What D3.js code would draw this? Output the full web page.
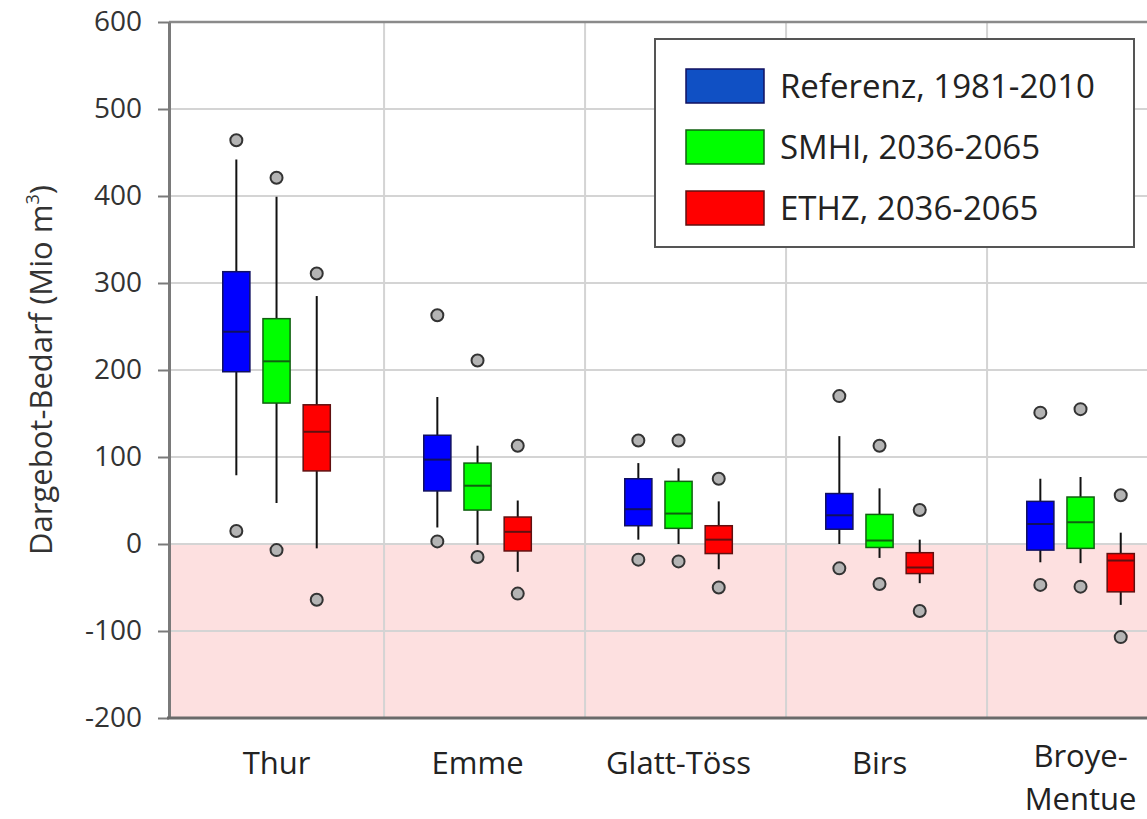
<!DOCTYPE html>
<html>
<head>
<meta charset="utf-8">
<script src="https://cdn.jsdelivr.net/npm/d3@7"></script>
<style>
  body { margin: 0; background: #fff; }
  svg { display: block; font-family: "Open Sans", sans-serif; }
</style>
</head>
<body>
<svg id="chart" width="1147" height="819"></svg>
<script>
// categories and series
var categories = ["Thur", "Emme", "Glatt-Töss", "Birs", "Broye-Mentue"];
var seriesNames = ["Referenz, 1981-2010", "SMHI, 2036-2065", "ETHZ, 2036-2065"];

// five-number summaries per category: [whisker low, q1, median, q3, whisker high]
var referenzStats = [[79, 198, 244, 313, 442], [19, 61, 97, 125, 169], [5, 21, 40, 75, 93], [0, 17, 33, 58, 124], [-21, -7, 23, 49, 75]];
var smhiStats = [[47, 162, 210, 259, 399], [-1, 39, 67, 93, 113], [0, 18, 35, 72, 87], [-16, -4, 4, 34, 64], [-22, -5, 25, 54, 77]];
var ethzStats = [[-5, 84, 129, 160, 285], [-32, -8, 14, 31, 50], [-29, -11, 5, 21, 49], [-45, -34, -27, -10, 5], [-70, -55, -19, -11, 13]];

// outliers per category
var referenzOutliers = [[15, 464], [3, 263], [-18, 119], [-28, 170], [-47, 151]];
var smhiOutliers = [[-7, 421], [-15, 211], [-20, 119], [-46, 113], [-49, 155]];
var ethzOutliers = [[-64, 311], [-57, 113], [-50, 75], [-77, 39], [-107, 56]];

var yTicks = [-200, -100, 0, 100, 200, 300, 400, 500, 600];

var fills = ["#0000ff", "#00ff00", "#ff0000"];
var strokes = ["#101060", "#106010", "#601010"];
var legendFills = ["#1050c4", "#00ff00", "#ff0000"];

var margin = {top: 22, left: 169, bottom: 101};
var height = 819 - margin.top - margin.bottom;
var bandW = 201;

var svg = d3.select("#chart");

var x = d3.scaleLinear()
    .domain([-0.535, 5.535])
    .range([margin.left, margin.left + 6.07 * bandW]);
var y = d3.scaleLinear()
    .domain([-200, 600])
    .range([margin.top + height, margin.top]);

var right = x(5.535);

// pink area below zero
svg.append("rect")
    .attr("x", x(-0.535)).attr("y", y(0))
    .attr("width", right - x(-0.535)).attr("height", y(-200) - y(0))
    .attr("fill", "#fde0e0");

// horizontal grid
svg.append("g").selectAll("line").data(yTicks.slice(1, -1)).join("line")
    .attr("x1", margin.left).attr("x2", right)
    .attr("y1", d => y(d)).attr("y2", d => y(d))
    .attr("stroke", "#d4d4d4").attr("stroke-width", 2);

// vertical grid between categories
svg.append("g").selectAll("line").data(d3.range(categories.length)).join("line")
    .attr("x1", d => x(d + 0.535)).attr("x2", d => x(d + 0.535))
    .attr("y1", y(600)).attr("y2", y(-200))
    .attr("stroke", "#d4d4d4").attr("stroke-width", 2);

// top frame
svg.append("line")
    .attr("x1", margin.left).attr("x2", right)
    .attr("y1", y(600)).attr("y2", y(600))
    .attr("stroke", "#8a8a8a").attr("stroke-width", 2.5);

// boxes
var allStats = [referenzStats, smhiStats, ethzStats];
var allOutliers = [referenzOutliers, smhiOutliers, ethzOutliers];
var offsets = [-0.2, 0, 0.2];
var boxW = 0.135;

allStats.forEach(function(stats, s) {
    var g = svg.append("g");
    var grp = g.selectAll("g").data(stats).join("g");
    var cx = (d, i) => x(i + offsets[s]);

    // whisker
    grp.append("line")
        .attr("x1", cx).attr("x2", cx)
        .attr("y1", d => y(d[0])).attr("y2", d => y(d[4]))
        .attr("stroke", "#111").attr("stroke-width", 2);
    grp.append("rect")
        .attr("x", (d, i) => x(i + offsets[s] - boxW / 2))
        .attr("width", x(boxW) - x(0))
        .attr("y", d => y(d[3]))
        .attr("height", d => y(d[1]) - y(d[3]))
        .attr("fill", fills[s])
        .attr("stroke", strokes[s]).attr("stroke-width", 1.5);
    grp.append("line")
        .attr("x1", (d, i) => x(i + offsets[s] - boxW / 2))
        .attr("x2", (d, i) => x(i + offsets[s] + boxW / 2))
        .attr("y1", d => y(d[2])).attr("y2", d => y(d[2]))
        .attr("stroke", strokes[s]).attr("stroke-width", 2);

    // outliers
    var pts = [];
    allOutliers[s].forEach((o, i) => o.forEach(v => pts.push({i: i, v: v})));
    g.selectAll("circle").data(pts).join("circle")
        .attr("cx", d => x(d.i + offsets[s]))
        .attr("cy", d => y(d.v))
        .attr("r", 6)
        .attr("fill", "#b4b4b4")
        .attr("stroke", "#333").attr("stroke-width", 2);
});

// y axis
var yAxis = svg.append("g")
    .attr("transform", `translate(${margin.left},0)`)
    .call(d3.axisLeft(y).tickValues(yTicks).tickSize(11).tickPadding(16).tickSizeOuter(0)
        .tickFormat(d => String(d)));
yAxis.select(".domain").attr("stroke", "#7a7a7a").attr("stroke-width", 3);
yAxis.selectAll(".tick line").attr("stroke", "#7a7a7a").attr("stroke-width", 2);
yAxis.selectAll("text")
    .attr("font-size", 28).attr("fill", "#333")
    .attr("font-family", "Open Sans, sans-serif");

// bottom axis line
svg.append("line")
    .attr("x1", margin.left - 2).attr("x2", right)
    .attr("y1", y(-200)).attr("y2", y(-200))
    .attr("stroke", "#6a6a6a").attr("stroke-width", 3);

// category labels (Broye-Mentue wraps onto two lines)
var labels = svg.append("g").selectAll("text").data(categories).join("text")
    .attr("x", (d, i) => x(i))
    .attr("y", d => d === "Broye-Mentue" ? 767 : 774)
    .attr("text-anchor", "middle")
    .attr("font-size", 31).attr("fill", "#222");
labels.each(function(d) {
    var parts = d === "Broye-Mentue" ? ["Broye-", "Mentue"] : [d];
    var t = d3.select(this);
    parts.forEach((p, k) => {
        t.append("tspan").attr("x", t.attr("x")).attr("dy", k ? 43 : 0).text(p);
    });
});

// y title
var title = svg.append("text")
    .attr("transform", `translate(52,${(y(600) + y(-200)) / 2}) rotate(-90)`)
    .attr("text-anchor", "middle")
    .attr("font-size", 31).attr("fill", "#333");
title.append("tspan").text("Dargebot-Bedarf (Mio m");
title.append("tspan").attr("font-size", 18).attr("dy", -13).text("3");
title.append("tspan").attr("dy", 13).text(")");

// legend
var legend = svg.append("g");
legend.append("rect")
    .attr("x", 655).attr("y", 39).attr("width", 479).attr("height", 208)
    .attr("fill", "#fff").attr("stroke", "#555").attr("stroke-width", 2);
var items = legend.selectAll("g.item").data(seriesNames).join("g")
    .attr("class", "item")
    .attr("transform", (d, i) => `translate(686,${69 + i * 61})`);
items.append("rect")
    .attr("width", 78).attr("height", 34)
    .attr("fill", (d, i) => legendFills[i])
    .attr("stroke", (d, i) => strokes[i]).attr("stroke-width", 1.5);
items.append("text")
    .attr("x", 94).attr("y", 29)
    .attr("font-size", 33).attr("fill", "#222")
    .text(d => d);
</script>
</body>
</html>
